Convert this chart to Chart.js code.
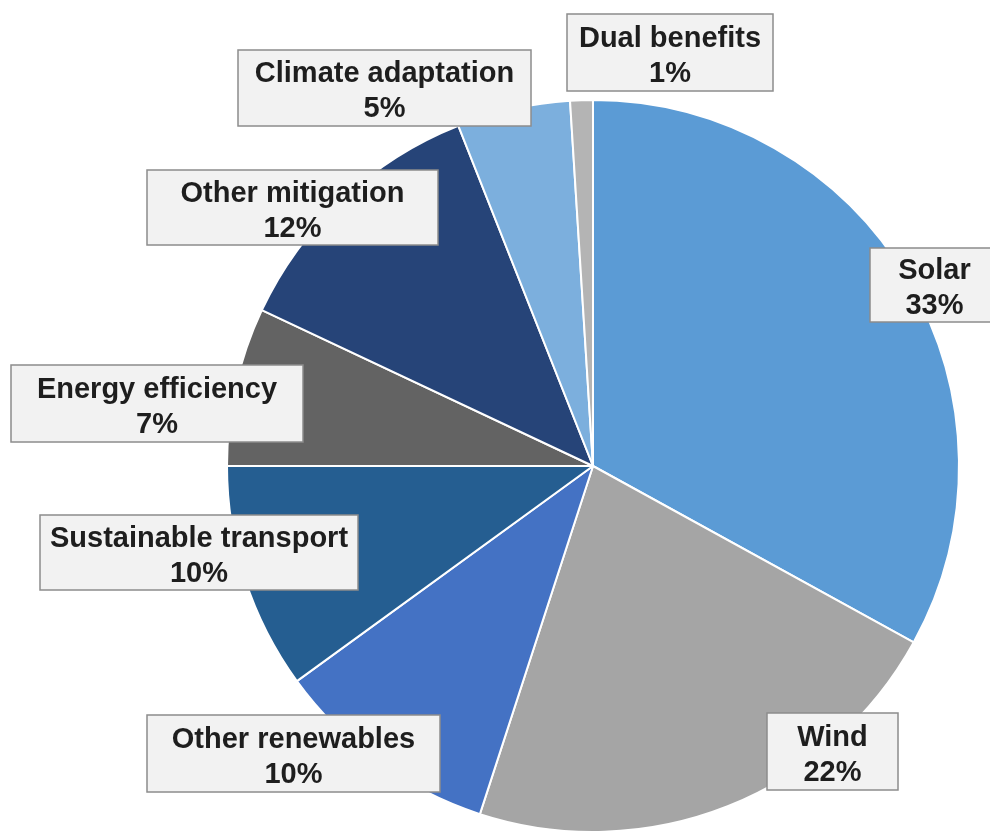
<!DOCTYPE html>
<html>
<head>
<meta charset="utf-8">
<script src="https://cdn.jsdelivr.net/npm/chart.js@4.4.0/dist/chart.umd.min.js"></script>
<style>
  html, body { margin: 0; padding: 0; background: #ffffff; }
  #wrap { width: 990px; height: 833px; position: relative; }
</style>
</head>
<body>
<div id="wrap"><canvas id="canvas" width="990" height="833"></canvas></div>
<script>
// data
const categories = ["Solar", "Wind", "Other renewables", "Sustainable transport",
  "Energy efficiency", "Other mitigation", "Climate adaptation", "Dual benefits"];
const shares = [33, 22, 10, 10, 7, 12, 5, 1];
const sliceColors = ["#5B9BD5", "#A5A5A5", "#4472C4", "#255E91",
  "#636363", "#264478", "#7CAFDD", "#B4B4B4"];

// label box placement [x, y, w, h], same order as categories
const labelBoxes = [
  [870, 248, 129, 74],
  [767, 713, 131, 77],
  [147, 715, 293, 77],
  [40, 515, 318, 75],
  [11, 365, 292, 77],
  [147, 170, 291, 75],
  [238, 50, 293, 76],
  [567, 14, 206, 77],
];

const boxLabels = {
  id: "boxLabels",
  afterDraw(chart) {
    const ctx = chart.ctx;
    ctx.save();
    ctx.font = "bold 29px 'Liberation Sans', Arial, sans-serif";
    ctx.textAlign = "center";
    ctx.textBaseline = "alphabetic";
    labelBoxes.forEach((b, i) => {
      const [x, y, w, h] = b;
      ctx.fillStyle = "#F2F2F2";
      ctx.fillRect(x, y, w, h);
      ctx.lineWidth = 1.5;
      ctx.strokeStyle = "#8C8C8C";
      ctx.strokeRect(x, y, w, h);
      const cx = x + w / 2;
      const cy = y + h / 2;
      ctx.fillStyle = "#1E1E1E";
      ctx.fillText(categories[i], cx, cy - 6);
      ctx.fillText(shares[i] + "%", cx, cy + 29);
    });
    ctx.restore();
  },
};

const ctx = document.getElementById("canvas").getContext("2d");
new Chart(ctx, {
  type: "pie",
  data: {
    labels: categories,
    datasets: [{
      data: shares,
      backgroundColor: sliceColors,
      borderColor: "#FFFFFF",
      borderWidth: 2,
    }],
  },
  options: {
    responsive: false,
    animation: false,
    layout: { padding: { left: 226, right: 30, top: 99, bottom: 0 } },
    plugins: {
      legend: { display: false },
      tooltip: { enabled: false },
    },
  },
  plugins: [boxLabels],
});
</script>
</body>
</html>
